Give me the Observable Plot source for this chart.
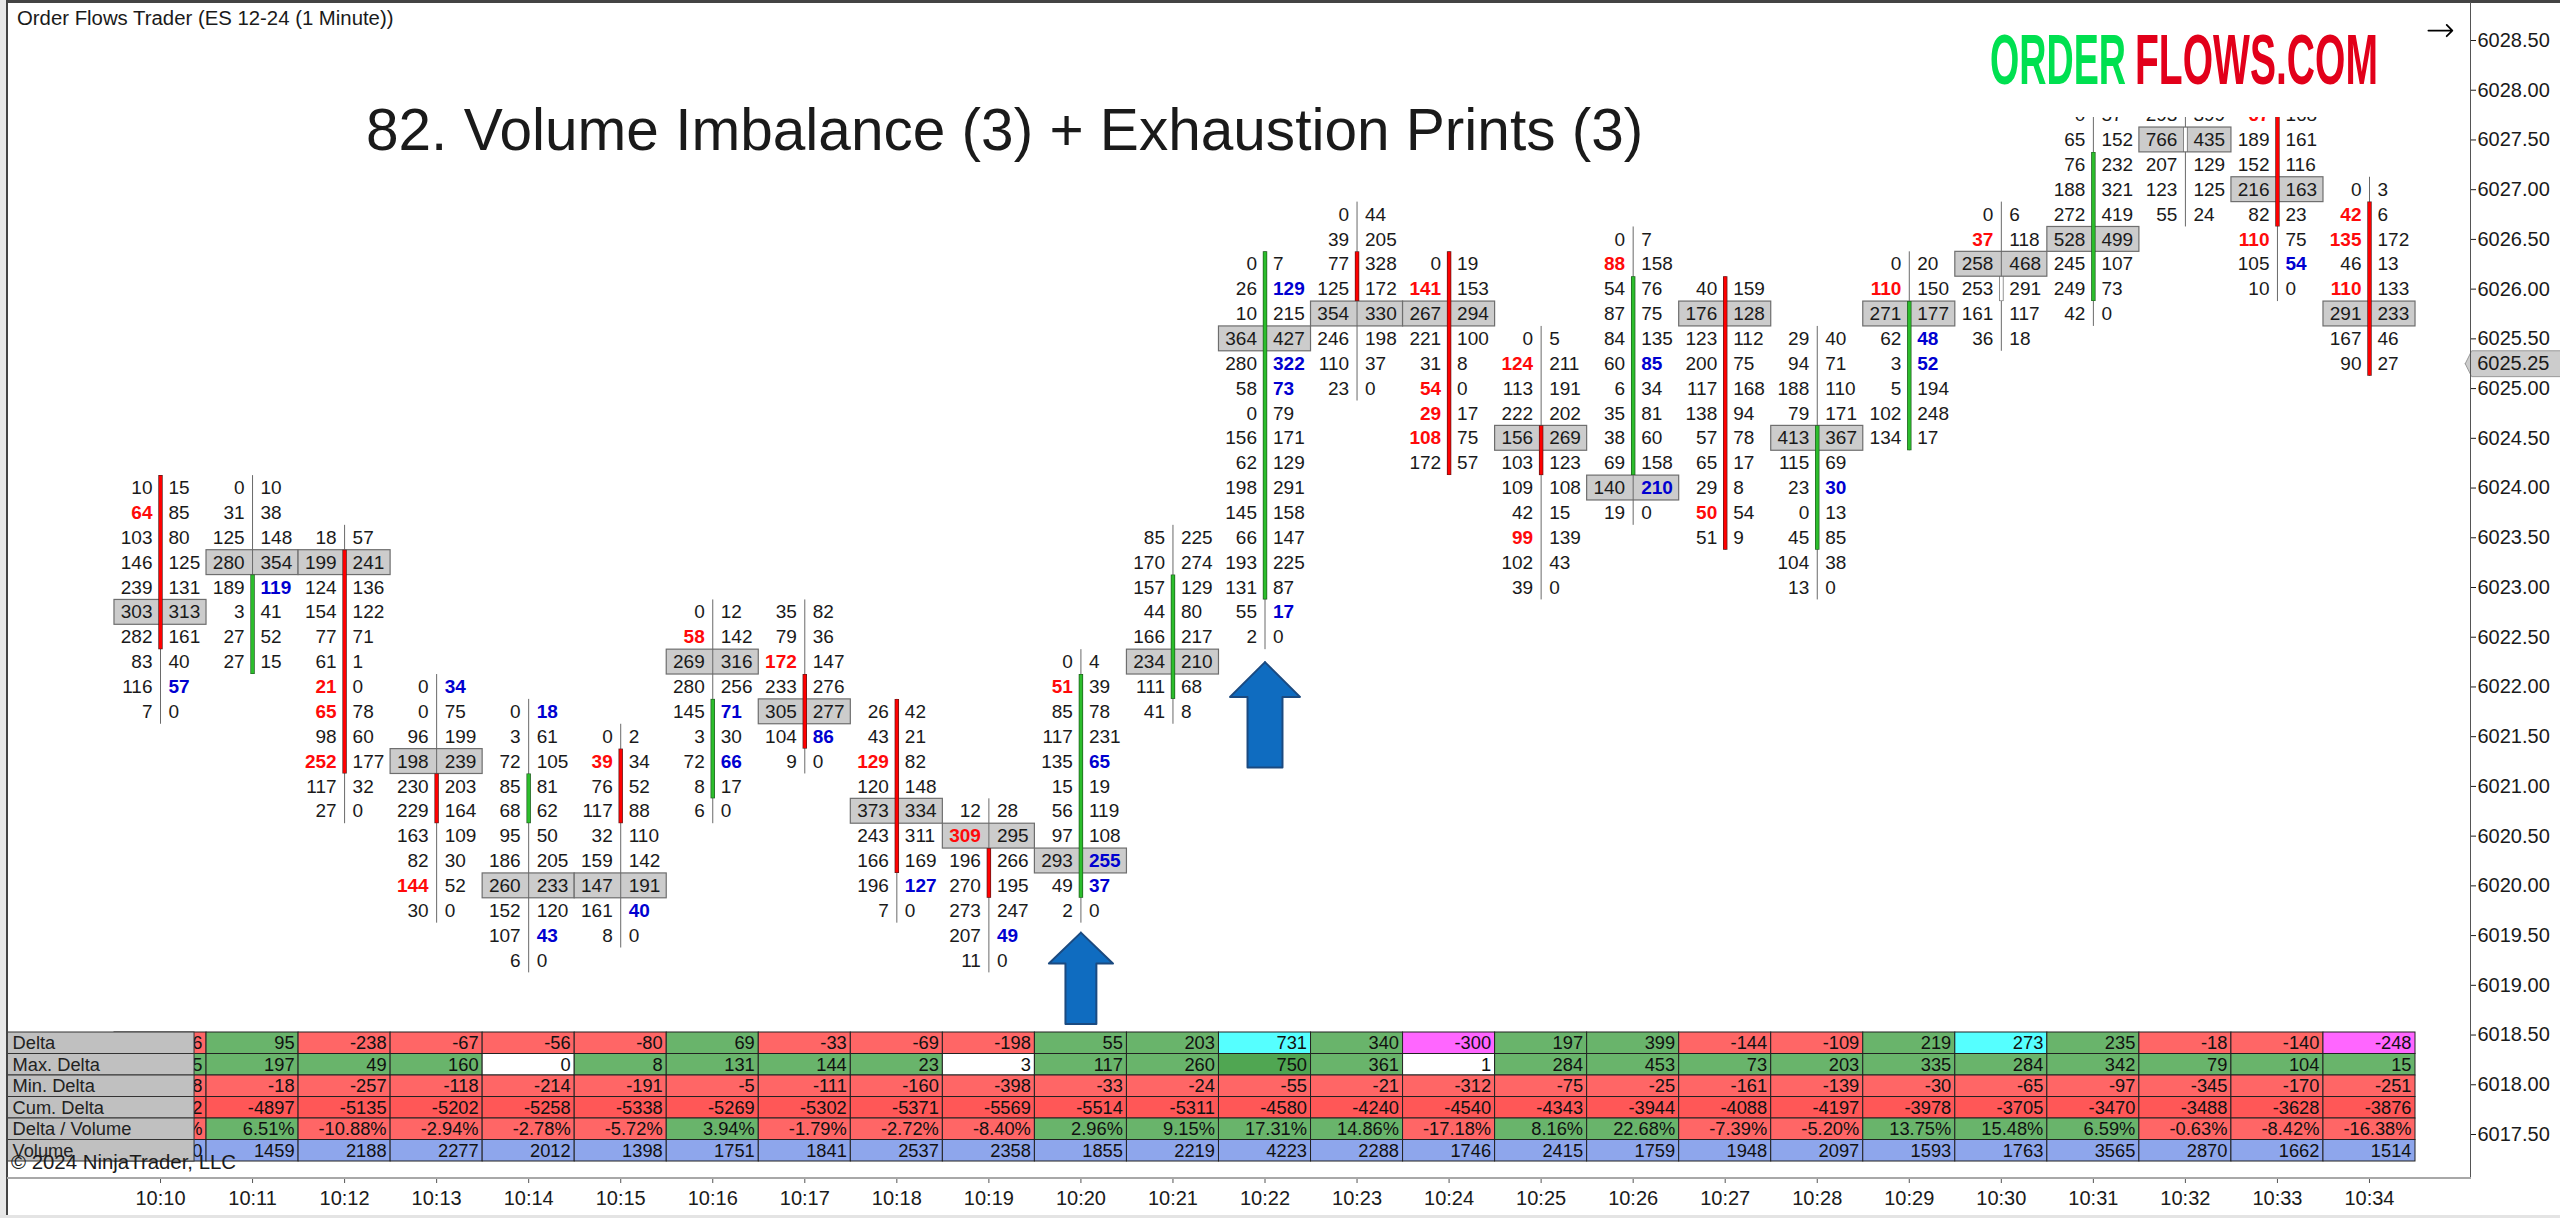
<!DOCTYPE html>
<html>
<head>
<meta charset="utf-8">
<script src="https://cdn.jsdelivr.net/npm/d3@7"></script>
<script src="https://cdn.jsdelivr.net/npm/@observablehq/plot@0.6"></script>
<style>
  html, body { margin: 0; padding: 0; background: #fff; overflow: hidden; }
  #page { position: relative; width: 2560px; height: 1218px; overflow: hidden; font-family: "Liberation Sans", Arial, sans-serif; }
  #page svg { position: absolute; left: 0; top: 0; }
  .t { position: absolute; white-space: nowrap; line-height: 1; color: #1a1a1a; z-index: 5; }
  .c { position: absolute; z-index: 6; }
</style>
</head>
<body>
<div id="page"></div>
<script>
const TITLE = "82. Volume Imbalance (3) + Exhaustion Prints (3)";
const HEADER = "Order Flows Trader (ES 12-24 (1 Minute))";
const COPYRIGHT = "© 2024 NinjaTrader, LLC";

const minutes = ["10:10","10:11","10:12","10:13","10:14","10:15","10:16","10:17","10:18","10:19","10:20","10:21","10:22","10:23","10:24","10:25","10:26","10:27","10:28","10:29","10:30","10:31","10:32","10:33","10:34"];
const topPrices = [6024,6024,6023.5,6022,6021.75,6021.5,6022.75,6022.75,6021.75,6020.75,6022.25,6023.5,6026.25,6026.75,6026.25,6025.5,6026.5,6026,6025.5,6026.25,6026.75,6027.75,6027.75,6027.75,6027];
const bids = [
  [10,64,103,146,239,303,282,83,116,7],
  [0,31,125,280,189,3,27,27],
  [18,199,124,154,77,61,21,65,98,252,117,27],
  [0,0,96,198,230,229,163,82,144,30],
  [0,3,72,85,68,95,186,260,152,107,6],
  [0,39,76,117,32,159,147,161,8],
  [0,58,269,280,145,3,72,8,6],
  [35,79,172,233,305,104,9],
  [26,43,129,120,373,243,166,196,7],
  [12,309,196,270,273,207,11],
  [0,51,85,117,135,15,56,97,293,49,2],
  [85,170,157,44,166,234,111,41],
  [0,26,10,364,280,58,0,156,62,198,145,66,193,131,55,2],
  [0,39,77,125,354,246,110,23],
  [0,141,267,221,31,54,29,108,172],
  [0,124,113,222,156,103,109,42,99,102,39],
  [0,88,54,87,84,60,6,35,38,69,140,19],
  [40,176,123,200,117,138,57,65,29,50,51],
  [29,94,188,79,413,115,23,0,45,104,13],
  [0,110,271,62,3,5,102,134],
  [0,37,258,253,161,36],
  [0,65,76,188,272,528,245,249,42],
  [293,766,207,123,55],
  [67,189,152,216,82,110,105,10],
  [0,42,135,46,110,291,167,90]
];
const asks = [
  [15,85,80,125,131,313,161,40,57,0],
  [10,38,148,354,119,41,52,15],
  [57,241,136,122,71,1,0,78,60,177,32,0],
  [34,75,199,239,203,164,109,30,52,0],
  [18,61,105,81,62,50,205,233,120,43,0],
  [2,34,52,88,110,142,191,40,0],
  [12,142,316,256,71,30,66,17,0],
  [82,36,147,276,277,86,0],
  [42,21,82,148,334,311,169,127,0],
  [28,295,266,195,247,49,0],
  [4,39,78,231,65,19,119,108,255,37,0],
  [225,274,129,80,217,210,68,8],
  [7,129,215,427,322,73,79,171,129,291,158,147,225,87,17,0],
  [44,205,328,172,330,198,37,0],
  [19,153,294,100,8,0,17,75,57],
  [5,211,191,202,269,123,108,15,139,43,0],
  [7,158,76,75,135,85,34,81,60,158,210,0],
  [159,128,112,75,168,94,78,17,8,54,9],
  [40,71,110,171,367,69,30,13,85,38,0],
  [20,150,177,48,52,194,248,17],
  [6,118,468,291,117,18],
  [57,152,232,321,419,499,107,73,0],
  [399,435,129,125,24],
  [168,161,116,163,23,75,54,0],
  [3,6,172,13,133,233,46,27]
];
const pocRows = [5,3,1,3,7,6,2,4,4,1,8,5,3,4,2,4,10,1,4,2,2,5,1,3,5];
const bodyKinds = ["red","green","red","red","green","red","green","red","red","red","green","green","green","red","red","red","green","red","green","green","doji","green","doji","red","red"];
const bodyFrom = [0,4,1,4,3,1,4,3,0,2,1,2,0,2,0,4,2,0,4,2,3,2,1,0,1];
const bodyTo =   [6,7,9,5,4,3,7,5,6,3,9,6,13,3,8,5,9,10,8,7,3,7,1,4,7];
const redBidRows = [[1],[],[6,7,9],[8],[],[1],[1],[2],[2],[1],[1],[],[],[],[1,5,6,7],[1,8],[1],[9],[],[1],[1],[],[],[0,5],[1,2,4]];
const blueAskRows = [[8],[4],[],[0],[0,9],[7],[4,6],[5],[7],[5],[4,8,9],[],[1,4,5,14],[],[],[],[5,10],[],[6],[3,4],[],[],[],[6],[]];

const priceTicks = [6017.5,6018,6018.5,6019,6019.5,6020,6020.5,6021,6021.5,6022,6022.5,6023,6023.5,6024,6024.5,6025,6025.5,6026,6026.5,6027,6027.5,6028,6028.5];
const lastPrice = 6025.25;

const rowNames = ["Delta","Max. Delta","Min. Delta","Cum. Delta","Delta / Volume","Volume"];
const deltaValues = ["-6",95,-238,-67,-56,-80,69,-33,-69,-198,55,203,731,340,-300,197,399,-144,-109,219,273,235,-18,-140,-248];
const maxDeltaValues = ["5",197,49,160,0,8,131,144,23,3,117,260,750,361,1,284,453,73,203,335,284,342,79,104,15];
const minDeltaValues = ["-8",-18,-257,-118,-214,-191,-5,-111,-160,-398,-33,-24,-55,-21,-312,-75,-25,-161,-139,-30,-65,-97,-345,-170,-251];
const cumDeltaValues = ["-2",-4897,-5135,-5202,-5258,-5338,-5269,-5302,-5371,-5569,-5514,-5311,-4580,-4240,-4540,-4343,-3944,-4088,-4197,-3978,-3705,-3470,-3488,-3628,-3876];
const deltaVolumeValues = ["-%",6.51,-10.88,-2.94,-2.78,-5.72,3.94,-1.79,-2.72,-8.40,2.96,9.15,17.31,14.86,-17.18,8.16,22.68,-7.39,-5.20,13.75,15.48,6.59,-0.63,-8.42,-16.38];
const volumeValues = ["0",1459,2188,2277,2012,1398,1751,1841,2537,2358,1855,2219,4223,2288,1746,2415,1759,1948,2097,1593,1763,3565,2870,1662,1514];
const deltaCyan = ["10:22","10:30"];
const deltaMagenta = ["10:24","10:34"];

// ---- derived tables ----
const TICK = 0.25, HALF = TICK / 2;
const cells = minutes.flatMap((t, i) => bids[i].map((b, r) => ({
  i, r, price: topPrices[i] - r * TICK, bid: b, ask: asks[i][r],
  redBid: redBidRows[i].includes(r), blueAsk: blueAskRows[i].includes(r)
})));
const bars = minutes.map((t, i) => ({
  i, kind: bodyKinds[i],
  wickTop: topPrices[i] + HALF,
  wickBottom: topPrices[i] - (bids[i].length - 1) * TICK - HALF,
  bodyTop: topPrices[i] - bodyFrom[i] * TICK + HALF,
  bodyBottom: topPrices[i] - bodyTo[i] * TICK - HALF,
  poc: topPrices[i] - pocRows[i] * TICK
}));
const bodyOuter = {red: "#5c1a1a", green: "#1d5a1d", doji: "#666"};
const bodyInner = {red: "#ff0000", green: "#2cbd2c", doji: "#ffffff"};

// annotation shapes, expressed in minute index / price
const blueArrows = [
  {minute: 10, tip: 6019.53, shoulder: 6019.22, tail: 6018.61, head: 0.348, shaft: 0.168},
  {minute: 12, tip: 6022.25, shoulder: 6021.90, tail: 6021.19, head: 0.38, shaft: 0.19}
];
const arrowOutline = blueArrows.flatMap((a, k) => [
  [a.minute, a.tip], [a.minute + a.head, a.shoulder], [a.minute + a.shaft, a.shoulder],
  [a.minute + a.shaft, a.tail], [a.minute - a.shaft, a.tail], [a.minute - a.shaft, a.shoulder],
  [a.minute - a.head, a.shoulder], [a.minute, a.tip]
].map(p => ({k, x: p[0], y: p[1]})));
const lastTag = [[25.04, lastPrice], [25.11, lastPrice + 0.13], [26.1, lastPrice + 0.13], [26.1, lastPrice - 0.13], [25.11, lastPrice - 0.13], [25.04, lastPrice]]
  .map(p => ({x: p[0], y: p[1]}));

const FONT = '"Liberation Sans", Arial, sans-serif';
const TXT = "#1a1a1a";
const CELL_SIZE = 19;

const pricePlot = Plot.plot({
  width: 2560, height: 1218,
  marginTop: 117, marginRight: 90, marginBottom: 40, marginLeft: 0,
  style: {fontFamily: FONT, background: "transparent", color: TXT},
  x: {domain: [0, 24], range: [160, 2369], axis: null},
  y: {domain: [6017.5, 6028.5], range: [1134, 40], axis: null},
  color: {type: "identity"},
  marks: [
    Plot.rect(bars, {x1: d => d.i - 0.5, x2: d => d.i + 0.5, y1: d => d.poc - HALF, y2: d => d.poc + HALF, fill: "#cccccc", stroke: "#6e6e6e", strokeWidth: 1.2, clip: true}),
    Plot.ruleX(bars, {x: "i", y1: "wickBottom", y2: "wickTop", stroke: "#6a6a6a", strokeWidth: 1, clip: true}),
    Plot.ruleX(bars, {x: "i", y1: "bodyBottom", y2: "bodyTop", stroke: d => bodyOuter[d.kind], strokeWidth: 4.4, clip: true}),
    Plot.ruleX(bars, {x: "i", y1: d => d.bodyBottom + 0.006, y2: d => d.bodyTop - 0.006, stroke: d => bodyInner[d.kind], strokeWidth: 3, clip: true}),
    // plain bid / ask volumes
    Plot.text(cells.filter(d => !d.redBid), {x: "i", y: "price", text: d => String(d.bid), textAnchor: "end", dx: -8, clip: true, fill: TXT, fontSize: CELL_SIZE}),
    Plot.text(cells.filter(d => !d.blueAsk), {x: "i", y: "price", text: d => String(d.ask), textAnchor: "start", dx: 8, clip: true, fill: TXT, fontSize: CELL_SIZE}),
    // exhaustion prints in bold
    Plot.text(cells.filter(d => d.redBid), {x: "i", y: "price", text: d => String(d.bid), textAnchor: "end", dx: -8, clip: true, fill: "#ff0a0a", fontWeight: 700, fontSize: CELL_SIZE}),
    Plot.text(cells.filter(d => d.blueAsk), {x: "i", y: "price", text: d => String(d.ask), textAnchor: "start", dx: 8, clip: true, fill: "#0000d0", fontWeight: 700, fontSize: CELL_SIZE}),
    Plot.line(arrowOutline, {x: "x", y: "y", z: "k", fill: "#0f6cc0", stroke: "#1b4a80", strokeWidth: 2, curve: "linear"}),
    Plot.arrow([{x1: 24.64, x2: 24.9, y: 6028.6}], {x1: "x1", x2: "x2", y1: "y", y2: "y", stroke: "#000", strokeWidth: 1.8, headAngle: 90, headLength: 10, bend: 0}),
    Plot.axisY({anchor: "right", ticks: priceTicks, tickFormat: d3.format(".2f"), tickSize: 5, tickPadding: 2, fontSize: 20, label: null, color: TXT}),
    Plot.line(lastTag, {x: "x", y: "y", fill: "#cccccc", stroke: "#999", strokeWidth: 1, curve: "linear"}),
    Plot.text([lastPrice], {x: 25.17, y: d => d, text: d => d3.format(".2f")(d), textAnchor: "start", fontSize: 20})
  ]
});

// ---- footer table ----
const tableData = minutes.flatMap((t, i) => [
  {row: "Delta", v: deltaValues[i]}, {row: "Max. Delta", v: maxDeltaValues[i]}, {row: "Min. Delta", v: minDeltaValues[i]},
  {row: "Cum. Delta", v: cumDeltaValues[i]}, {row: "Delta / Volume", v: deltaVolumeValues[i]}, {row: "Volume", v: volumeValues[i]}
].map(d => ({...d, t})));
const isNeg = v => String(v).startsWith("-");
function cellFill(d) {
  if (d.row === "Volume") return "#8ea6ec";
  if (d.row === "Cum. Delta") return "#ff5757";
  if (d.row === "Delta") {
    if (deltaCyan.includes(d.t)) return "#55ffff";
    if (deltaMagenta.includes(d.t)) return "#ff66ff";
  }
  if (d.row === "Max. Delta" && typeof d.v === "number") {
    if (d.v < 5) return "#ffffff";
    if (d.v >= 700) return "#50a652";
  }
  return isNeg(d.v) ? "#ff6666" : "#69b46b";
}
function cellText(d) {
  if (typeof d.v === "string") return d.v;
  return d.row === "Delta / Volume" ? d.v.toFixed(2) + "%" : String(d.v);
}
const tablePlot = Plot.plot({
  width: 2560, height: 1218,
  marginTop: 0, marginRight: 90, marginBottom: 40, marginLeft: 0,
  style: {fontFamily: FONT, background: "transparent", color: TXT},
  x: {type: "band", domain: minutes, range: [114, 2415], padding: 0, round: false, axis: null},
  y: {type: "band", domain: rowNames, range: [1032, 1161], padding: 0, round: false, axis: null},
  color: {type: "identity"},
  marks: [
    Plot.cell(tableData, {x: "t", y: "row", fill: cellFill, stroke: "#222", strokeWidth: 1}),
    Plot.text(tableData, {x: "t", y: "row", text: cellText, textAnchor: "end", dx: 42, fill: "#111", fontSize: 18.3}),
    Plot.cell(rowNames, {x: () => minutes[0], y: d => d, fill: "#c0c0c0", stroke: "#333", strokeWidth: 1, insetLeft: -107, insetRight: 12}),
    Plot.text(rowNames, {x: () => minutes[0], y: d => d, text: d => d, textAnchor: "start", dx: -148, fill: "#222", fontSize: 18.3}),
    Plot.axisX({anchor: "bottom", tickSize: 5, tickPadding: 7, fontSize: 20, label: null, stroke: "#555", color: TXT})
  ]
});

const page = document.getElementById("page");
page.append(pricePlot, tablePlot);

function addText(text, left, centerY, size) {
  const d = document.createElement("div");
  d.className = "t";
  d.textContent = text;
  d.style.cssText = `left:${left}px;top:${centerY - size / 2}px;font-size:${size}px`;
  page.append(d);
}
addText(HEADER, 17, 18, 20.35);
addText(TITLE, 366, 130, 58.55);
addText(COPYRIGHT, 11, 1162, 20.4);

// logo: condensed lettering
const logo = d3.create("svg").attr("width", 2560).attr("height", 100).style("z-index", 5);
logo.append("text").attr("x", 1990).attr("y", 84).attr("textLength", 136).attr("lengthAdjust", "spacingAndGlyphs")
  .attr("font-size", 71).attr("font-weight", 700).attr("font-family", FONT).attr("fill", "#00e050").text("ORDER");
logo.append("text").attr("x", 2135).attr("y", 84).attr("textLength", 243).attr("lengthAdjust", "spacingAndGlyphs")
  .attr("font-size", 71).attr("font-weight", 700).attr("font-family", FONT).attr("fill", "#e2001a").text("FLOWS.COM");
page.append(logo.node());

// window chrome
function chrome(l, t, w, h, c) {
  const d = document.createElement("div");
  d.className = "c";
  d.style.cssText = `left:${l}px;top:${t}px;width:${w}px;height:${h}px;background:${c}`;
  page.append(d);
}
chrome(0, 0, 6, 1218, "#e8e8e8");
chrome(6, 0, 1.5, 1215, "#444");
chrome(6, 0, 2554, 2.5, "#444");
chrome(2470, 2, 1, 1176, "#555");
chrome(7, 1177, 2464, 2, "#a8a8a8");
chrome(0, 1215, 2560, 3, "#e4e4e4");
</script>
</body>
</html>
